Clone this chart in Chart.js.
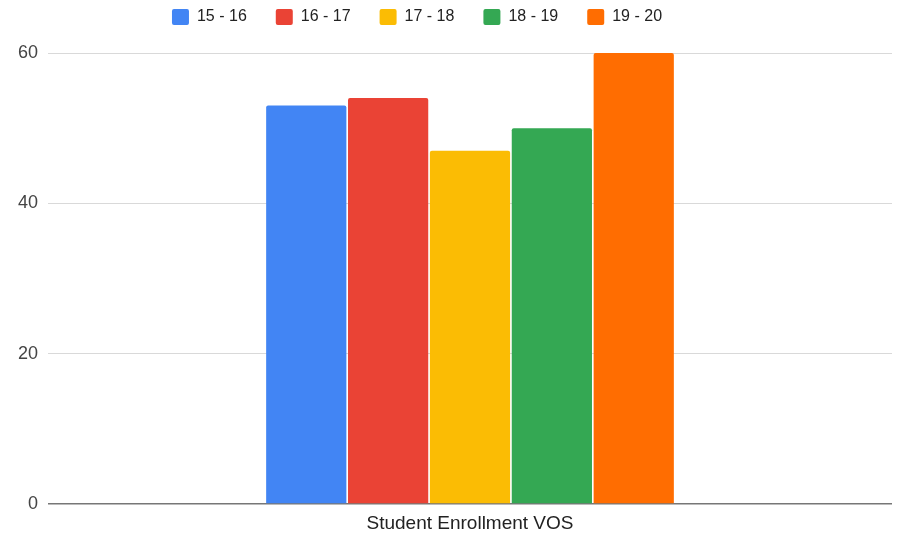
<!DOCTYPE html>
<html>
<head>
<meta charset="utf-8">
<script src="https://cdn.jsdelivr.net/npm/chart.js@4"></script>
<style>
  html, body { margin: 0; padding: 0; background: #fff; }
  #wrap { width: 904px; height: 535px; }
</style>
</head>
<body>
<div id="wrap"><canvas id="chart"></canvas></div>
<script>
const categories = ['Student Enrollment VOS'];
const seriesNames = ['15 - 16', '16 - 17', '17 - 18', '18 - 19', '19 - 20'];
const seriesValues = [[53], [54], [47], [50], [60]];
const seriesColors = ['#4285F4', '#EA4335', '#FBBC04', '#34A853', '#FF6D01'];
const yTicks = [0, 20, 40, 60];

Chart.defaults.font.family = '"Liberation Sans", Arial, sans-serif';

const datasets = seriesNames.map((name, i) => ({
  label: name,
  data: seriesValues[i],
  backgroundColor: seriesColors[i],
  borderRadius: 2,
  borderSkipped: 'bottom',
  categoryPercentage: 0.485,
  barPercentage: 0.98,
}));

// nudge legend up and left to sit where the original one does
const legendShift = {
  id: 'legendShift',
  afterLayout(chart) {
    const lg = chart.legend;
    lg.left -= 29; lg.right -= 29;
    lg.top -= 18; lg.bottom -= 18;
  },
};

new Chart(document.getElementById('chart').getContext('2d'), {
  type: 'bar',
  data: { labels: categories, datasets },
  plugins: [legendShift],
  options: {
    responsive: true,
    maintainAspectRatio: false,
    animation: false,
    layout: { padding: { left: 0, right: 12, top: -2, bottom: 0 } },
    plugins: {
      tooltip: { enabled: false },
      legend: {
        position: 'top',
        labels: {
          color: '#222',
          font: { size: 16 },
          boxWidth: 17,
          boxHeight: 16,
          padding: 29,
          useBorderRadius: true,
          borderRadius: 2,
        },
      },
    },
    scales: {
      x: {
        grid: { display: false },
        border: { display: false },
        ticks: { color: '#222', font: { size: 19 }, padding: 0 },
        afterFit: (s) => { s.height = 31; },
      },
      y: {
        min: 0,
        max: 60,
        afterBuildTicks: (s) => { s.ticks = yTicks.map((v) => ({ value: v })); },
        grid: {
          drawTicks: false,
          color: (ctx) => (ctx.tick && ctx.tick.value === 0 ? '#777' : '#d9d9d9'),
          lineWidth: (ctx) => (ctx.tick && ctx.tick.value === 0 ? 1.5 : 1),
        },
        border: { display: false },
        ticks: { color: '#444', font: { size: 18 }, padding: 10 },
        afterFit: (s) => { s.width = 48; },
      },
    },
  },
});
</script>
</body>
</html>
